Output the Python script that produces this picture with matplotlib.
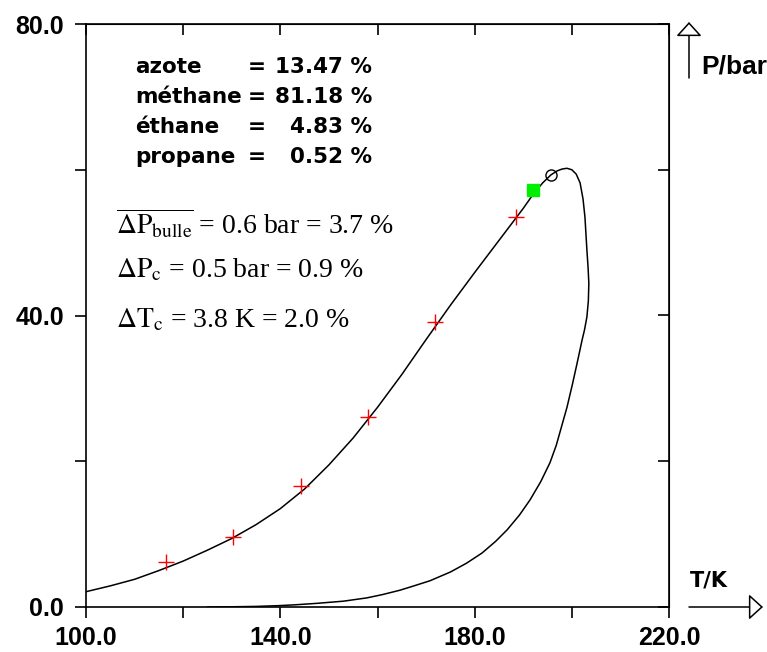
import numpy as np
import matplotlib.pyplot as plt
from matplotlib.patches import FancyArrowPatch
from matplotlib.ticker import FixedLocator

plt.rcParams['font.family'] = ['Liberation Sans', 'DejaVu Sans']
plt.rcParams['mathtext.fontset'] = 'stix'

# phase envelope (bubble branch then dew branch)
env_T = [100.0, 105.0, 110.0, 115.0, 120.0, 125.0, 130.0, 135.0, 140.0, 145.0,
         150.0, 155.0, 160.0, 165.0, 170.0, 175.0, 180.0, 185.0, 190.0, 192.0,
         194.0, 195.7, 197.0, 198.0, 199.0, 200.0, 200.9, 201.7, 202.3, 202.7,
         203.1, 203.35, 203.5, 203.4, 203.1, 202.6, 202.1, 201.1, 200.1, 199.0,
         197.9, 196.8, 195.5, 193.6, 191.4, 189.2, 186.7, 184.3, 181.5, 178.3,
         175.0, 170.8, 167.5, 164.6, 161.0, 157.8, 153.0, 147.5, 143.0, 139.5,
         135.0, 130.0, 125.0]
env_P = [2.1, 2.9, 3.8, 5.0, 6.3, 7.8, 9.4, 11.3, 13.5, 16.2,
         19.5, 23.2, 27.4, 31.9, 36.7, 41.4, 45.9, 50.3, 54.7, 56.6,
         58.2, 59.3, 59.85, 60.1, 60.2, 60.0, 59.4, 58.2, 56.0, 53.5,
         49.0, 46.5, 44.4, 42.0, 39.8, 38.0, 36.6, 33.5, 30.5, 27.4,
         24.8, 22.2, 19.8, 17.2, 14.7, 12.6, 10.6, 9.0, 7.4, 6.0,
         4.8, 3.6, 2.9, 2.3, 1.7, 1.25, 0.8, 0.5, 0.3, 0.18,
         0.08, 0.03, 0.0]

# experimental bubble points
exp_T = [116.5, 130.3, 144.3, 158.0, 171.8, 188.5]
exp_P = [6.2, 9.6, 16.6, 26.1, 39.1, 53.5]

# critical points: experimental (square) and computed (circle)
crit_exp = (192.0, 57.2)
crit_calc = (195.7, 59.3)

comp_names = ['azote', 'méthane', 'éthane', 'propane']
comp_values = ['13.47 %', '81.18 %', '4.83 %', '0.52 %']

dev_lines = [r'$\overline{\Delta\mathrm{P}_{\mathrm{bulle}}}$ = 0.6 bar = 3.7 %',
             r'$\Delta\mathrm{P}_{\mathrm{c}}$ = 0.5 bar = 0.9 %',
             r'$\Delta\mathrm{T}_{\mathrm{c}}$ = 3.8 K = 2.0 %']

W, H = 767, 652
fig = plt.figure(figsize=(W / 100, H / 100), dpi=100)
ax = fig.add_axes([86 / W, 45 / H, 583 / W, 583 / H])

ax.plot(env_T, env_P, color='black', lw=1.1)
ax.plot(exp_T, exp_P, '+', color='red', ms=12, mew=1.0)
ax.plot(*crit_exp, 's', color='#00ee00', ms=8)
ax.plot(*crit_calc, 'o', mfc='none', mec='black', ms=8, mew=1.0)

ax.set_xlim(100, 220)
ax.set_ylim(0, 80)
ax.xaxis.set_major_locator(FixedLocator([100, 140, 180, 220]))
ax.xaxis.set_minor_locator(FixedLocator([120, 160, 200]))
ax.yaxis.set_major_locator(FixedLocator([0, 40, 80]))
ax.yaxis.set_minor_locator(FixedLocator([20, 60]))
ax.xaxis.set_major_formatter(lambda v, p: f'{v:.1f}')
ax.yaxis.set_major_formatter(lambda v, p: f'{v:.1f}')
ax.tick_params(which='both', direction='out', length=8, width=1.2, labelsize=18)
ax.tick_params(axis='x', pad=6)
ax.tick_params(axis='y', pad=8)
for lab in ax.get_xticklabels() + ax.get_yticklabels():
    lab.set_fontweight('bold')
for s in ax.spines.values():
    s.set_linewidth(1.2)

# inward ticks on top and right
top = ax.secondary_xaxis('top')
top.xaxis.set_major_locator(FixedLocator([100, 120, 140, 160, 180, 200, 220]))
top.tick_params(direction='in', length=8, width=1.2, labeltop=False)
right = ax.secondary_yaxis('right')
right.yaxis.set_major_locator(FixedLocator([0, 20, 40, 60, 80]))
right.tick_params(direction='in', length=8, width=1.2, labelright=False)

# composition block
bold = dict(fontsize=15.5, fontweight='bold', family='DejaVu Sans', va='baseline')
for i, (name, val) in enumerate(zip(comp_names, comp_values)):
    y = 1 - (73 + i * 30) / H
    fig.text(135 / W, y, name, **bold)
    fig.text(248 / W, y, '=', **bold)
    fig.text(372 / W, y, val, ha='right', **bold)

for i, s in enumerate(dev_lines):
    y = [224, 270, 320][i]
    fig.text(116 / W, 1 - y / H, s, fontsize=20, family='Liberation Serif',
             va='center')

# axis arrows
arrow_kw = dict(transform=fig.transFigure, fc='white', ec='black', lw=1.1,
                arrowstyle='-|>,head_length=0.55,head_width=0.5',
                mutation_scale=16, shrinkA=0, shrinkB=0)
fig.patches.append(FancyArrowPatch((689 / W, 1 - 78 / H), (689 / W, 1 - 22 / H),
                                   **arrow_kw))
fig.patches.append(FancyArrowPatch((689 / W, 1 - 607 / H), (763 / W, 1 - 607 / H),
                                   **arrow_kw))
fig.text(701 / W, 1 - 66 / H, 'P/bar', fontsize=19, fontweight='bold', va='center')
fig.text(690 / W, 1 - 580 / H, 'T/K', fontsize=15, fontweight='bold',
         family='DejaVu Sans', va='center')

fig.savefig('out.png', dpi=100)
